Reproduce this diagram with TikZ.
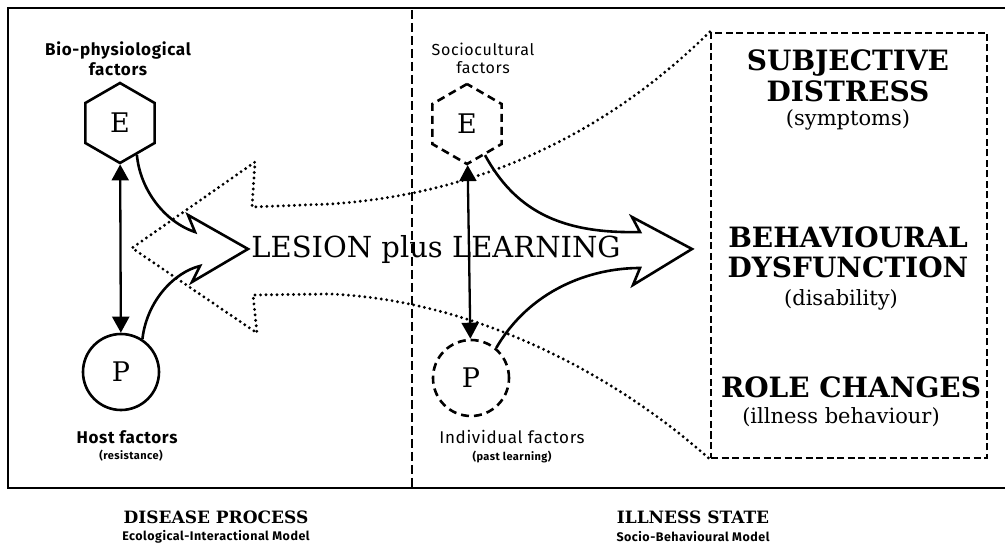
\documentclass[tikz,border=0pt]{standalone}
\usepackage{fontspec}
\setmainfont{DejaVu Serif}
\setsansfont{Fira Sans}[LetterSpace=4]
\usepackage{tikz}
\tikzset{>=latex}
\usetikzlibrary{arrows.meta}
\usetikzlibrary{shapes.geometric}

\tikzset{
    factor/.style={draw, line width=2.6pt, inner sep=0pt, font=\fontsize{27}{27}\selectfont},
    hexfactor/.style={factor, regular polygon, regular polygon sides=6, shape border rotate=30, minimum size=80pt},
    circfactor/.style={factor, circle, minimum size=76pt},
    social/.style={dash pattern=on 8pt off 5pt},
    link/.style={line width=2.3pt, {Triangle[length=16pt,width=17pt]}-{Triangle[length=16pt,width=17pt]}},
    flow/.style={line width=2.6pt, line join=miter},
    dotflow/.style={line width=3.2pt, dash pattern=on 0pt off 5.5pt, line cap=round},
    heading/.style={font=\bfseries\fontsize{28}{28}\selectfont},
    note/.style={font=\fontsize{21}{21}\selectfont},
    caption/.style={font=\bfseries\fontsize{17}{17}\selectfont},
    model/.style={font=\sffamily\bfseries\fontsize{12.5}{12.5}\selectfont},
}

\begin{document}
\begin{tikzpicture}[x=1pt, y=-1pt]
    \useasboundingbox (0,0) rectangle (1005,545);
    \coordinate (TL) at (248,249);
    \coordinate (TR) at (692,249);
    \coordinate (TD) at (132,248);

    % Frame
    \draw[line width=2.4pt] (1005,8) -- (8,8) -- (8,488) -- (1005,488);
    \draw[line width=2.2pt, dash pattern=on 9pt off 4pt] (412,10) -- (412,488);

    % Disease process
    \node[hexfactor] (e1) at (120,123) {E};
    \node[circfactor] (p1) at (121,372) {P};
    \node[font=\sffamily\bfseries\fontsize{17}{20}\selectfont, align=center] (bio) at (118,59) {Bio-physiological\\factors};
    \node[font=\sffamily\bfseries\fontsize{17}{17}\selectfont] (host) at (127,437) {Host factors};
    \node[font=\sffamily\bfseries\fontsize{11}{11}\selectfont] (resist) at (131,456) {(resistance)};
    \draw[link] (e1) -- (p1);

    % Illness state
    \node[hexfactor, social] (e2) at (467,124) {E};
    \node[circfactor, social] (p2) at (471,378) {P};
    \node[font=\sffamily\fontsize{16}{18}\selectfont, align=center] (socio) at (483,58) {Sociocultural\\factors};
    \node[font=\sffamily\fontsize{17}{17}\selectfont] (indiv) at (512,437) {Individual factors};
    \node[font=\sffamily\bfseries\fontsize{11}{11}\selectfont] (past) at (512,457) {(past learning)};
    \draw[link] (e2) -- (p2);

    % Outcome box
    \node[draw, line width=2.4pt, dash pattern=on 7pt off 3.5pt, minimum width=276pt, minimum height=425pt, inner sep=0pt] (state) at (849,245.5) {};
    \node[heading] (subj) at (848,63) {SUBJECTIVE};
    \node[heading] (distr) at (848,91) {DISTRESS};
    \node[note] (sympt) at (848,120) {(symptoms)};
    \node[heading] (behav) at (848,237) {BEHAVIOURAL};
    \node[heading] (dysf) at (848,267) {DYSFUNCTION};
    \node[note] (disab) at (841,300) {(disability)};
    \node[heading] (role) at (851,387) {ROLE CHANGES};
    \node[note] (illb) at (841,417) {(illness behaviour)};

    % Centre label
    \node[font=\fontsize{29}{29}\selectfont] (lesion) at (436,250) {LESION plus LEARNING};

    % Dotted arrow back to the outcomes
    \draw[dotflow] (state.north west) .. controls (600,140) and (470,195) .. (330,204)
        -- (252,207) -- (255,162) -- (TD) -- (257,333) -- (253,295) -- (330,294)
        .. controls (470,300) and (610,370) .. (state.south west);

    % Solid arrows
    \draw[flow] (e1.-62) .. controls (140,190) and (165,222) .. (195,232)
        -- (188,215) -- (TL) -- (192,282) -- (200,266)
        .. controls (175,272) and (147,300) .. (p1.57);
    \draw[flow] (e2.-60) .. controls (515,210) and (560,234) .. (640,232)
        -- (632,217) -- (TR) -- (633,285) -- (640,268)
        .. controls (590,268) and (530,290) .. (p2.50);

    % Bottom captions
    \node[caption] (disease) at (216,517) {DISEASE PROCESS};
    \node[model] (ecol) at (216,537) {Ecological-Interactional Model};
    \node[caption] (illness) at (693,517) {ILLNESS STATE};
    \node[model] (sbm) at (693,537) {Socio-Behavioural Model};
\end{tikzpicture}
\end{document}
